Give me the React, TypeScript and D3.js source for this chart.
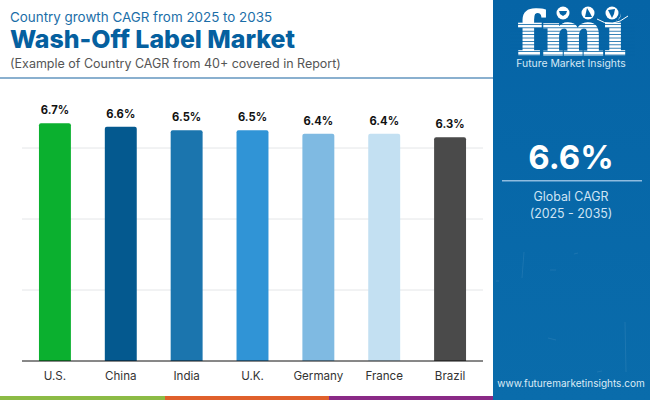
import * as d3 from 'd3';

const countries = ['U.S.', 'China', 'India', 'U.K.', 'Germany', 'France', 'Brazil'];
const cagr = [6.7, 6.6, 6.5, 6.5, 6.4, 6.4, 6.3];
const barColors = ['#0bb02f', '#04598f', '#1b75ae', '#3094d6', '#7fbae2', '#c3e0f2', '#4a4a4a'];
const gridTicks = [2, 4, 6];

const width = 650;
const height = 400;
const baseY = 361;
const panelX = 493;
const panelBlue = '#0564a6';
const font = 'Inter, "Noto Sans", sans-serif';

const x = d3.scaleBand<string>().domain(countries).range([22, 483]).paddingInner(0.515).paddingOuter(0.2575);
const y = d3.scaleLinear().domain([0, 8]).range([baseY, 77]);

const barPath = (bx: number, by: number, w: number, h: number, r: number) => {
  const p = d3.path();
  p.moveTo(bx, by + h);
  p.lineTo(bx, by + r);
  p.quadraticCurveTo(bx, by, bx + r, by);
  p.lineTo(bx + w - r, by);
  p.quadraticCurveTo(bx + w, by, bx + w, by + r);
  p.lineTo(bx + w, by + h);
  p.closePath();
  return p.toString();
};

// logo stripes and the faint scratches in the side panel
const stripeRows = d3.range(24, 56, 3.4);
const scratches = [
  'M524,252 L522,278',
  'M574,254 L578,253',
  'M625,322 L626,372',
  'M548,338 L556,340',
  'M496,281 L499,281',
  'M597,372 L602,371',
  'M550,270 L556,270',
];

export default function App() {
  return (
    <svg width={width} height={height} style={{ position: 'absolute', left: 0, top: 0, background: '#fff' }} fontFamily={font}>
      <defs>
        <linearGradient id="panel" x1="0" y1="0" x2="0" y2="1">
          <stop offset="0" stopColor={panelBlue} />
          <stop offset="1" stopColor="#0a6cab" />
        </linearGradient>
      </defs>

      {/* header */}
      <text x={10} y={22} fontSize={13.4} fill="#1b6ea8">Country growth CAGR from 2025 to 2035</text>
      <text x={10} y={48} fontSize={24.9} fontWeight={800} fill="#05609f">Wash-Off Label Market</text>
      <text x={10} y={68} fontSize={12.5} fill="#555">(Example of Country CAGR from 40+ covered in Report)</text>
      <rect x={0} y={77} width={panelX} height={2} fill="#8ab0cf" />

      {/* grid */}
      {gridTicks.map(t => (
        <line key={t} x1={22} x2={483} y1={y(t)} y2={y(t)} stroke="#e4e6e8" strokeWidth={1} />
      ))}

      {/* bars */}
      {countries.map((c, i) => {
        const bx = x(c)!;
        const top = y(cagr[i]);
        return (
          <g key={c}>
            <path d={barPath(bx, top, x.bandwidth(), baseY - top, 2)} fill={barColors[i]} />
            <text x={bx + x.bandwidth() / 2} y={top - 9} textAnchor="middle" fontSize={11.2} fontWeight={700} fill="#111">
              {cagr[i].toFixed(1)}%
            </text>
            <text x={bx + x.bandwidth() / 2} y={380} textAnchor="middle" fontSize={11.6} fill="#333">{c}</text>
          </g>
        );
      })}
      <line x1={22} x2={483} y1={baseY} y2={baseY} stroke="#111" strokeWidth={1} />

      {/* bottom strip */}
      <rect x={0} y={396} width={165} height={4} fill="#8cbb45" />
      <rect x={165} y={396} width={164} height={4} fill="#e0602c" />
      <rect x={329} y={396} width={164} height={4} fill="#8a2a86" />

      {/* side panel */}
      <rect x={panelX} y={0} width={width - panelX} height={height} fill="url(#panel)" />
      {scratches.map(d => (
        <path key={d} d={d} fill="none" stroke="#fff" strokeOpacity={0.08} strokeWidth={1} />
      ))}

      {/* logo */}
      <text x={517} y={55} fontSize={59} fontWeight={700} fontFamily='"DejaVu Serif", serif' fill="#fff" stroke="#fff" strokeWidth={1.4} textLength={109} lengthAdjust="spacingAndGlyphs">fmi</text>
      {stripeRows.map(r => (
        <rect key={r} x={510} y={r} width={125} height={0.8} fill={panelBlue} />
      ))}
      <circle cx={600} cy={13} r={9} fill={panelBlue} />
      <circle cx={612} cy={13} r={9} fill={panelBlue} />
      <circle cx={563} cy={13} r={6.5} fill="#fff" />
      <path d="M559,11 L567,11 L566,14 L563,16 L560,14 Z" fill={panelBlue} />
      <circle cx={588} cy={13} r={6.5} fill="#fff" />
      <path d="M587,8 L590,13 L592,17 L585,17 Z" fill={panelBlue} />
      <circle cx={612} cy={13} r={6.5} fill="#fff" />
      <path d="M608,10 L615,9 L614,14 L612,18 L610,14 Z" fill={panelBlue} />
      <path d="M597,19 Q612,29 628,16" fill="none" stroke="#fff" strokeWidth={1} />
      <text x={571} y={67} textAnchor="middle" fontSize={10.4} fill="#d5e8f5">Future Market Insights</text>

      {/* global figure */}
      <text x={571} y={169} textAnchor="middle" fontSize={33} fontWeight={700} fill="#fff">6.6%</text>
      <rect x={502} y={180} width={140} height={1.5} fill="#8fbce0" />
      <text x={571} y={201} textAnchor="middle" fontSize={12.4} fill="#cfe4f4">Global CAGR</text>
      <text x={571} y={218} textAnchor="middle" fontSize={12.4} fill="#cfe4f4">(2025 - 2035)</text>

      <text x={571} y={387} textAnchor="middle" fontSize={10} fill="#dcebf6">www.futuremarketinsights.com</text>
    </svg>
  );
}
